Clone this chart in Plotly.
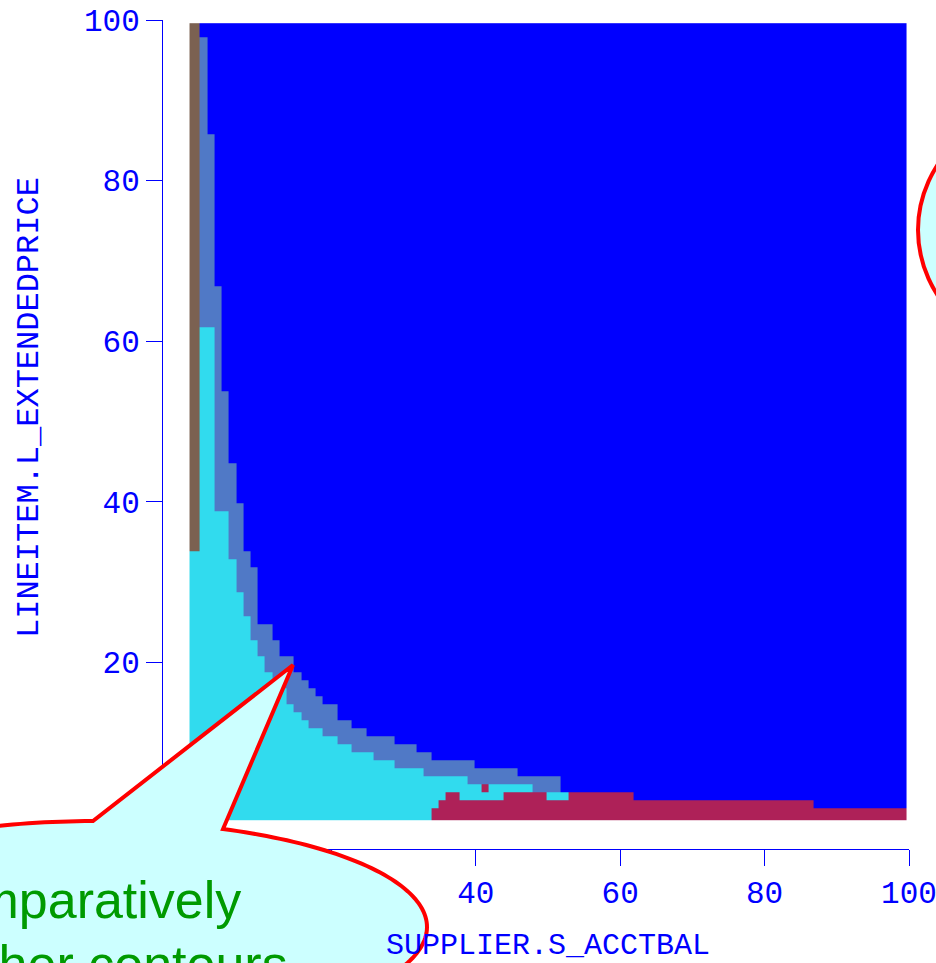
import numpy as np
import plotly.graph_objects as go

# ---------------- data ----------------
# grid resolution (100 x 100 query points over the selectivity space)
N_COLS = 100
N_ROWS = 100
# column / row boundaries (selectivity units)
grid_edges = [0.35] + [k + 0.8 for k in range(99)] + [99.6]

# Plan boundaries: starting SUPPLIER.S_ACCTBAL column -> number of rows (from bottom)
crimson_from = [0, 34, 35, 36, 38, 44, 50, 53, 62, 87]
crimson_top = [0, 2, 3, 4, 3, 4, 3, 4, 3, 2]

cyan_from = [0, 2, 4, 6, 7, 8, 9, 10, 11, 12, 13, 14, 15, 16, 17, 19, 21, 23, 26, 29, 33, 39, 48, 53]
cyan_top = [34, 62, 39, 33, 29, 26, 23, 21, 19, 18, 17, 15, 14, 13, 12, 11, 10, 9, 8, 7, 6, 5, 4, 0]

slate_from = [0, 2, 3, 4, 5, 6, 7, 8, 9, 10, 12, 13, 15, 16, 17, 18, 19, 21, 23, 25, 29, 32, 34, 40, 46, 52, 62, 87]
slate_top = [100, 98, 86, 67, 54, 45, 40, 34, 32, 25, 23, 21, 19, 18, 17, 16, 15, 13, 12, 11, 10, 9, 8, 7, 6, 4, 3, 2]

brown_cols = [0, 1]
brown_from_row = 34
notch_cols = [41]
notch_rows = [4]

plan_names = ["P1", "P2", "P3", "P4", "P5"]
plan_colors = ["#0000FF", "#5079C6", "#31DBEE", "#AE2158", "#7B6151"]

x_title = "SUPPLIER.S_ACCTBAL"
y_title = "LINEITEM.L_EXTENDEDPRICE"
tick_values = [0, 20, 40, 60, 80, 100]
callout_lines = ["Comparatively", "smoother contours"]


def runs_to_cols(starts, vals):
    out = np.zeros(N_COLS, dtype=int)
    for i, s in enumerate(starts):
        e = starts[i + 1] if i + 1 < len(starts) else N_COLS
        out[s:e] = vals[i]
    return out


cr = runs_to_cols(crimson_from, crimson_top)
cy = np.maximum(runs_to_cols(cyan_from, cyan_top), cr)
sl = np.maximum(runs_to_cols(slate_from, slate_top), cy)

z = np.zeros((N_ROWS, N_COLS), dtype=int)
rows = np.arange(N_ROWS)
for c in range(N_COLS):
    col = np.zeros(N_ROWS, dtype=int)
    col[rows < sl[c]] = 1
    col[rows < cy[c]] = 2
    col[rows < cr[c]] = 3
    z[:, c] = col
for c in brown_cols:
    z[brown_from_row:, c] = 4
for c, r in zip(notch_cols, notch_rows):
    z[r, c] = 3

cs = []
n = len(plan_colors)
for i, colr in enumerate(plan_colors):
    cs.append([i / n, colr])
    cs.append([(i + 1) / n, colr])

fig = go.Figure(
    go.Heatmap(
        z=z, x=grid_edges, y=grid_edges,
        colorscale=cs, zmin=-0.5, zmax=n - 0.5,
        showscale=False, hoverinfo="skip",
    )
)

# ---------------- layout ----------------
W, H = 936, 963
ML, MR, MT, MB = 162, 27, 20, 114
PW, PH = W - ML - MR, H - MT - MB


def xp(px):
    return (px - ML) / PW


def yp(py):
    return (H - MB - py) / PH


axis_color = "#0000FF"
mono = "Liberation Mono, Courier New, monospace"
common = dict(
    range=[0, 100], showgrid=False, zeroline=False, showline=True,
    linecolor=axis_color, linewidth=1, ticks="outside", ticklen=16,
    tickcolor=axis_color, tickwidth=1, tickvals=tick_values,
    tickfont=dict(family=mono, size=31, color=axis_color),
    anchor="free", position=0, automargin=False,
)
fig.update_layout(
    width=W, height=H, autosize=False,
    margin=dict(l=ML, r=MR, t=MT, b=MB, pad=0),
    paper_bgcolor="white", plot_bgcolor="white",
    xaxis=dict(domain=[xp(187), 1.0],
               title=dict(text=x_title, font=dict(family=mono, size=30, color=axis_color), standoff=30),
               ticklabelstandoff=0, ticklabeloverflow="allow", **common),
    yaxis=dict(domain=[yp(823), 1.0], ticklabelstandoff=0, **common),
    showlegend=False,
)

# y-axis title (placed to match the original slide)
fig.add_annotation(text=y_title, xref="paper", yref="paper", x=xp(30), y=yp(408),
                   xanchor="center", yanchor="middle", textangle=-90, showarrow=False,
                   font=dict(family=mono, size=32, color=axis_color))

# callout bubble (ellipse with wedge)
cx, cyy, a, b = 97, 927, 330, 106
th = np.radians(np.linspace(-67.55, 269.3, 240))
ex = cx + a * np.cos(th)
ey = cyy + b * np.sin(th)
tip = (293, 665)
path = "M " + " L ".join(f"{xp(x):.5f},{yp(y):.5f}" for x, y in zip(ex, ey))
path += f" L {xp(tip[0]):.5f},{yp(tip[1]):.5f} Z"
fig.add_shape(type="path", path=path, xref="paper", yref="paper",
              line=dict(color="#FF0000", width=4), fillcolor="#CCFFFF", layer="above")

# second callout partially visible at the right edge
fig.add_shape(type="circle", xref="paper", yref="paper",
              x0=xp(918), x1=xp(1218), y0=yp(98), y1=yp(362),
              line=dict(color="#FF0000", width=4), fillcolor="#CCFFFF", layer="above")

green = "#009A00"
sans = "Liberation Sans, Arial, sans-serif"
fig.add_annotation(text=callout_lines[0], xref="paper", yref="paper",
                   x=xp(243), y=yp(900), xanchor="right", yanchor="middle",
                   showarrow=False, font=dict(family=sans, size=52, color=green))
fig.add_annotation(text=callout_lines[1], xref="paper", yref="paper",
                   x=xp(290), y=yp(964), xanchor="right", yanchor="middle",
                   showarrow=False, font=dict(family=sans, size=52, color=green))

fig.write_html("out.html")
